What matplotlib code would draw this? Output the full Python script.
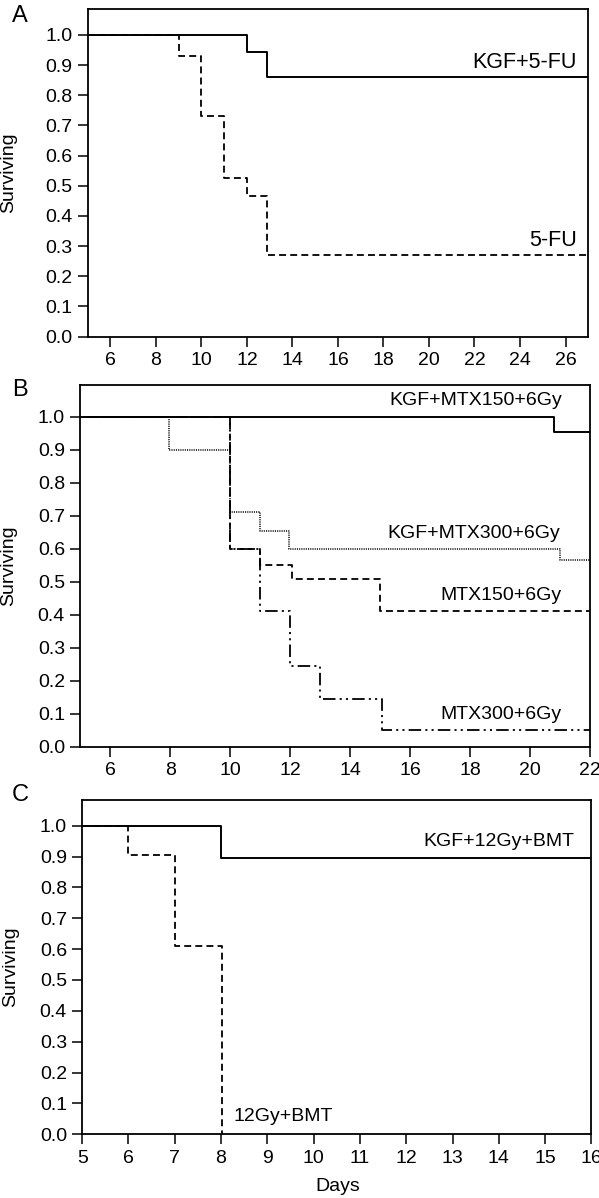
import numpy as np
import matplotlib
matplotlib.use("Agg")
import matplotlib.pyplot as plt

plt.rcParams["font.family"] = ["Liberation Sans", "DejaVu Sans"]
plt.rcParams["lines.scale_dashes"] = False

# ---- data ----
# panel A
a_kgf_days = [12.0, 12.9]
a_kgf_surv = [1.0, 0.943, 0.862]
a_fu_days = [9.0, 10.0, 11.0, 12.0, 12.9]
a_fu_surv = [1.0, 0.93, 0.73, 0.525, 0.465, 0.27]

# panel B
b_kgf150_days = [20.8]
b_kgf150_surv = [1.0, 0.953]
b_kgf300_days = [7.95, 10.0, 10.98, 11.95, 21.0]
b_kgf300_surv = [1.0, 0.90, 0.71, 0.655, 0.60, 0.567]
b_mtx150_days = [10.0, 11.0, 12.05, 15.0]
b_mtx150_surv = [1.0, 0.60, 0.55, 0.507, 0.41]
b_mtx300_days = [10.0, 11.0, 12.0, 13.0, 15.05]
b_mtx300_surv = [1.0, 0.60, 0.41, 0.245, 0.145, 0.05]

# panel C
c_kgf_days = [8.0]
c_kgf_surv = [1.0, 0.895]
c_bmt_days = [6.0, 7.0, 8.03]
c_bmt_surv = [1.0, 0.905, 0.61, 0.0]

y_ticks = np.round(np.arange(0, 1.01, 0.1), 1)

DASH = (0, (5, 3))
DOT = (0, (0.8, 0.8))
DASHDOTDOT = (0, (9, 3, 1.5, 3, 1.5, 3))


def km(ax, days, surv, start, end=None, **kw):
    x = [start] + list(days)
    y = list(surv)
    if end is not None:
        x = x + [end]
        y = y + [surv[-1]]
    ax.step(x, y, where="post", color="black", **kw)


def style(ax, xlim, ylim_top, xticks):
    ax.set_xlim(*xlim)
    ax.set_ylim(0, ylim_top)
    ax.set_xticks(xticks)
    ax.set_yticks(y_ticks)
    ax.set_yticklabels([f"{v:.1f}" for v in y_ticks])
    ax.tick_params(direction="out", length=7, width=1.1, labelsize=14, pad=4)
    for s in ax.spines.values():
        s.set_linewidth(1.3)
    ax.set_ylabel("Surviving", fontsize=14)


fig = plt.figure(figsize=(5.99, 11.98), dpi=100)

# ---- A ----
axA = fig.add_axes([0.1462, 0.719, 0.8359, 0.2733])
km(axA, a_kgf_days, a_kgf_surv, 5, 27, lw=1.4)
km(axA, a_fu_days, a_fu_surv, 5, 27, lw=1.3, linestyle=DASH)
style(axA, (5, 27), 1.085, range(6, 27, 2))
axA.yaxis.set_label_coords(-0.14, 0.5)
axA.text(26.5, 0.907, "KGF+5-FU", ha="right", va="center", fontsize=15.5)
axA.text(26.5, 0.32, "5-FU", ha="right", va="center", fontsize=15.5)
fig.text(12 / 599, 1 - 22 / 1198, "A", fontsize=17)

# ---- B ----
axB = fig.add_axes([0.134, 0.3767, 0.8513, 0.3022])
km(axB, b_kgf150_days, b_kgf150_surv, 5, 22, lw=1.4)
km(axB, b_kgf300_days, b_kgf300_surv, 5, 22, lw=1.1, linestyle=DOT)
km(axB, b_mtx150_days, b_mtx150_surv, 5, 22, lw=1.3, linestyle=DASH)
km(axB, b_mtx300_days, b_mtx300_surv, 5, 22, lw=1.3, linestyle=DASHDOTDOT)
style(axB, (5, 22), 1.097, range(6, 23, 2))
axB.yaxis.set_label_coords(-0.124, 0.5)
axB.text(21.06, 1.05, "KGF+MTX150+6Gy", ha="right", va="center", fontsize=14)
axB.text(21.0, 0.645, "KGF+MTX300+6Gy", ha="right", va="center", fontsize=14)
axB.text(21.06, 0.457, "MTX150+6Gy", ha="right", va="center", fontsize=14)
axB.text(21.06, 0.099, "MTX300+6Gy", ha="right", va="center", fontsize=14)
fig.text(12 / 599, 1 - 396 / 1198, "B", fontsize=17)

# ---- C ----
axC = fig.add_axes([0.1372, 0.0532, 0.8501, 0.279])
km(axC, c_kgf_days, c_kgf_surv, 5, 16, lw=1.4)
km(axC, c_bmt_days, c_bmt_surv, 5, None, lw=1.3, linestyle=DASH)
style(axC, (5, 16), 1.083, range(5, 17))
axC.yaxis.set_label_coords(-0.124, 0.5)
axC.set_xlabel("Days", fontsize=14)
axC.xaxis.set_label_coords(0.502, -0.131)
axC.text(15.64, 0.95, "KGF+12Gy+BMT", ha="right", va="center", fontsize=14)
axC.text(8.26, 0.059, "12Gy+BMT", ha="left", va="center", fontsize=14)
fig.text(12 / 599, 1 - 801 / 1198, "C", fontsize=17)

fig.savefig("out.png", dpi=100)
